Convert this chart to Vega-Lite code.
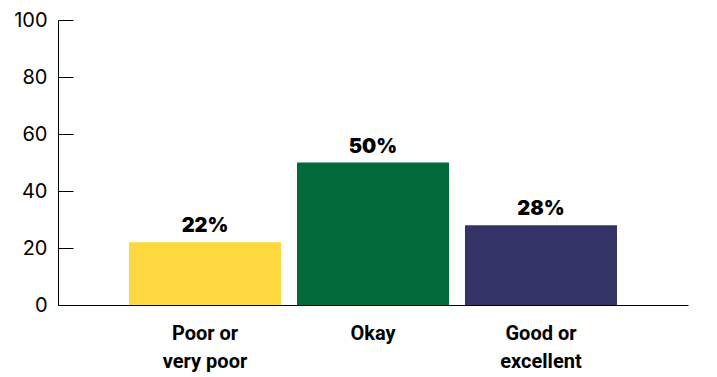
{
  "$schema": "https://vega.github.io/schema/vega-lite/v6.json",
  "autosize": "none",
  "width": 630,
  "height": 285,
  "padding": {"left": 58, "top": 20, "right": 29, "bottom": 72},
  "background": "white",
  "config": {"view": {"stroke": null}},
  "data": {"values": [
    {"rating": "Poor or very poor", "pct": 22, "label": "22%"},
    {"rating": "Okay", "pct": 50, "label": "50%"},
    {"rating": "Good or excellent", "pct": 28, "label": "28%"}
  ]},
  "encoding": {
    "x": {"field": "rating", "type": "nominal", "sort": null,
      "scale": {"paddingInner": 0.095, "paddingOuter": 0.4226},
      "axis": {"title": null, "labelAngle": 0, "ticks": false, "domainColor": "#000", "domainWidth": 1.2,
        "labelFont": "Roboto", "labelFontWeight": "bold", "labelFontSize": 20, "labelColor": "#000",
        "labelPadding": 18, "labelLineHeight": 28,
        "labelExpr": "datum.value == 'Poor or very poor' ? ['Poor or', 'very poor'] : datum.value == 'Good or excellent' ? ['Good or', 'excellent'] : datum.value"}},
    "y": {"field": "pct", "type": "quantitative",
      "scale": {"domain": [0, 100]},
      "axis": {"title": null, "values": [0, 20, 40, 60, 80, 100], "grid": false, "domainColor": "#000", "tickColor": "#000",
        "tickSize": -15, "labelPadding": 26, "labelFont": "Inter", "labelFontSize": 20, "labelColor": "#000"}}
  },
  "layer": [
    {"mark": {"type": "bar"},
      "encoding": {"color": {"field": "rating", "type": "nominal", "legend": null,
        "scale": {"domain": ["Poor or very poor", "Okay", "Good or excellent"], "range": ["#FDD83F", "#02693A", "#333366"]}}}},
    {"mark": {"type": "text", "dy": -16, "font": "Inter", "fontWeight": 900, "fontSize": 20, "color": "#000"},
      "encoding": {"text": {"field": "label", "type": "nominal"}}}
  ]
}
